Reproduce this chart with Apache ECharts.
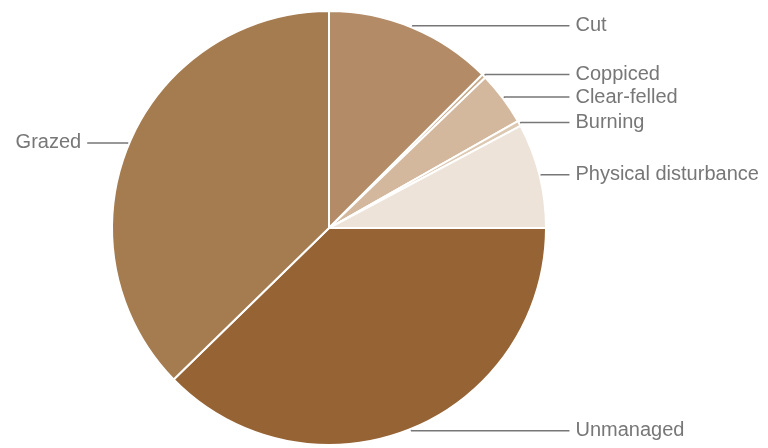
<!DOCTYPE html>
<html><head><meta charset="utf-8">
<script src="https://cdn.jsdelivr.net/npm/echarts@6/dist/echarts.min.js"></script>
<style>html,body{margin:0;padding:0;background:#fff}#c{width:768px;height:448px}</style>
</head><body><div id="c"></div>
<script>
const categories = ['Cut','Coppiced','Clear-felled','Burning','Physical disturbance','Unmanaged','Grazed'];
const values = [12.5, 0.3, 4.0, 0.4, 7.8, 37.7, 37.3];
const colors = ['#b38b67','#c9aa88','#d3b89d','#ddc8b2','#ede3d9','#966334','#a57b50'];

const chart = echarts.init(document.getElementById('c'), null, {renderer:'canvas'});
chart.setOption({
  animation:false,
  series:[{
    type:'pie',
    center:[329,228],
    radius:[0,217],
    startAngle:90,
    clockwise:true,
    avoidLabelOverlap:true,
    itemStyle:{borderColor:'#fff',borderWidth:2},
    label:{show:true,color:'#777',fontSize:20,fontFamily:'Liberation Sans, Arial, sans-serif',alignTo:'labelLine',distanceToLabelLine:6,overflow:'none'},
    labelLine:{show:true,length:2,length2:28,smooth:false,lineStyle:{color:'#777',width:1.5}},
    data: categories.map((n,i)=>({name:n,value:values[i],itemStyle:{color:colors[i]},
      labelLine: n==='Grazed'?{length:2,length2:40}:undefined}))
  }]
});
</script></body></html>
